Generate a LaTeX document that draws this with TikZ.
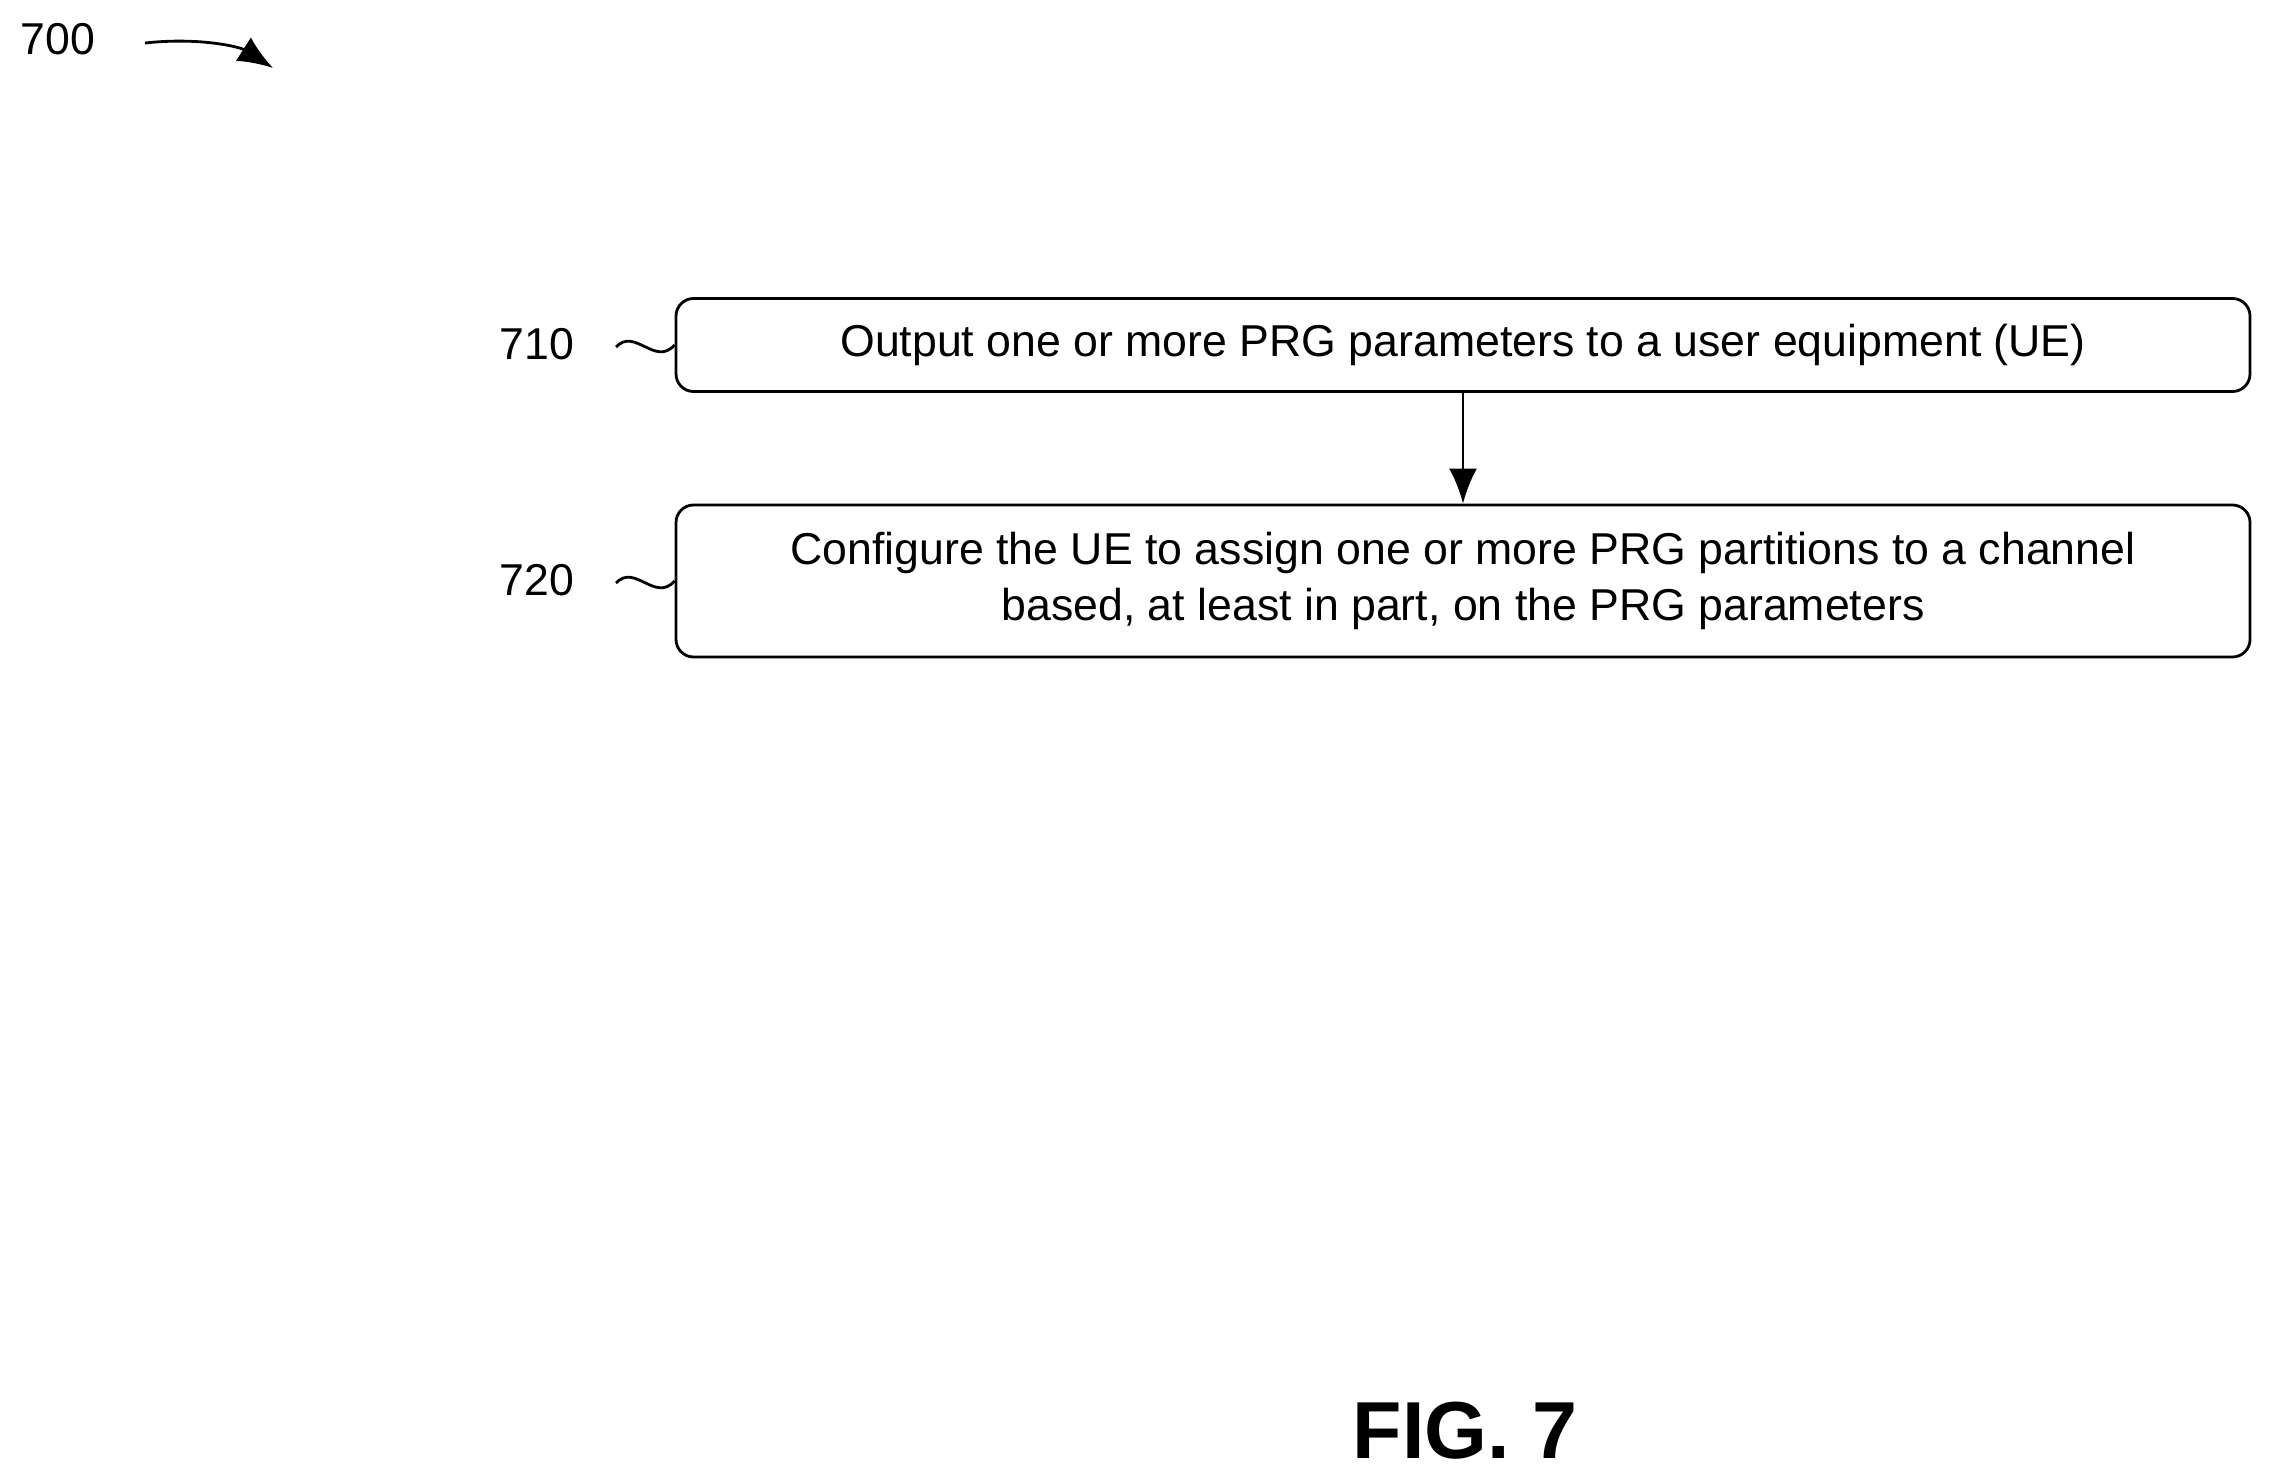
\documentclass[tikz,border=0pt]{standalone}
\usepackage{fontspec}
\setmainfont{Liberation Sans}
\usetikzlibrary{positioning,arrows.meta}
\tikzset{
  stepbox/.style={draw, thick, rounded corners=5pt, minimum width=15.74cm, align=center, font=\fontsize{12.7}{16}\selectfont},
  reflabel/.style={font=\fontsize{12.7}{16}\selectfont},
  squig/.style={thick}
}
\begin{document}
\begin{tikzpicture}
  \useasboundingbox (0,0) rectangle (22.73,14.77);
  % steps
  \node[stepbox, minimum height=0.93cm] (s710) at (14.63,11.32) {Output one or more PRG parameters to a user equipment (UE)};
  \node[stepbox, minimum height=1.52cm] (s720) at (14.63,8.96) {Configure the UE to assign one or more PRG partitions to a channel\\based, at least in part, on the PRG parameters};
  \draw[-{Latex[length=3.5mm,width=2.8mm]}, thick] (s710) -- (s720);
  % reference numerals
  \node[reflabel] (l710) at (5.37,11.33) {710};
  \node[reflabel] (l720) at (5.37,8.97) {720};
  \draw[squig] (6.16,11.30) .. controls (6.35,11.50) and (6.55,11.10) .. (s710.west);
  \draw[squig] (6.16,8.94) .. controls (6.35,9.14) and (6.55,8.74) .. (s720.west);
  % figure number
  \node[reflabel] (l700) at (0.58,14.38) {700};
  \coordinate (a700) at (2.73,14.09);
  \draw[thick, -{Latex[length=3.5mm,width=2.8mm]}] (1.45,14.34) .. controls (2.0,14.40) and (2.4,14.30) .. (a700);
  \node[font=\bfseries\fontsize{23}{28}\selectfont] (fig) at (14.65,0.46) {FIG. 7};
\end{tikzpicture}
\end{document}
